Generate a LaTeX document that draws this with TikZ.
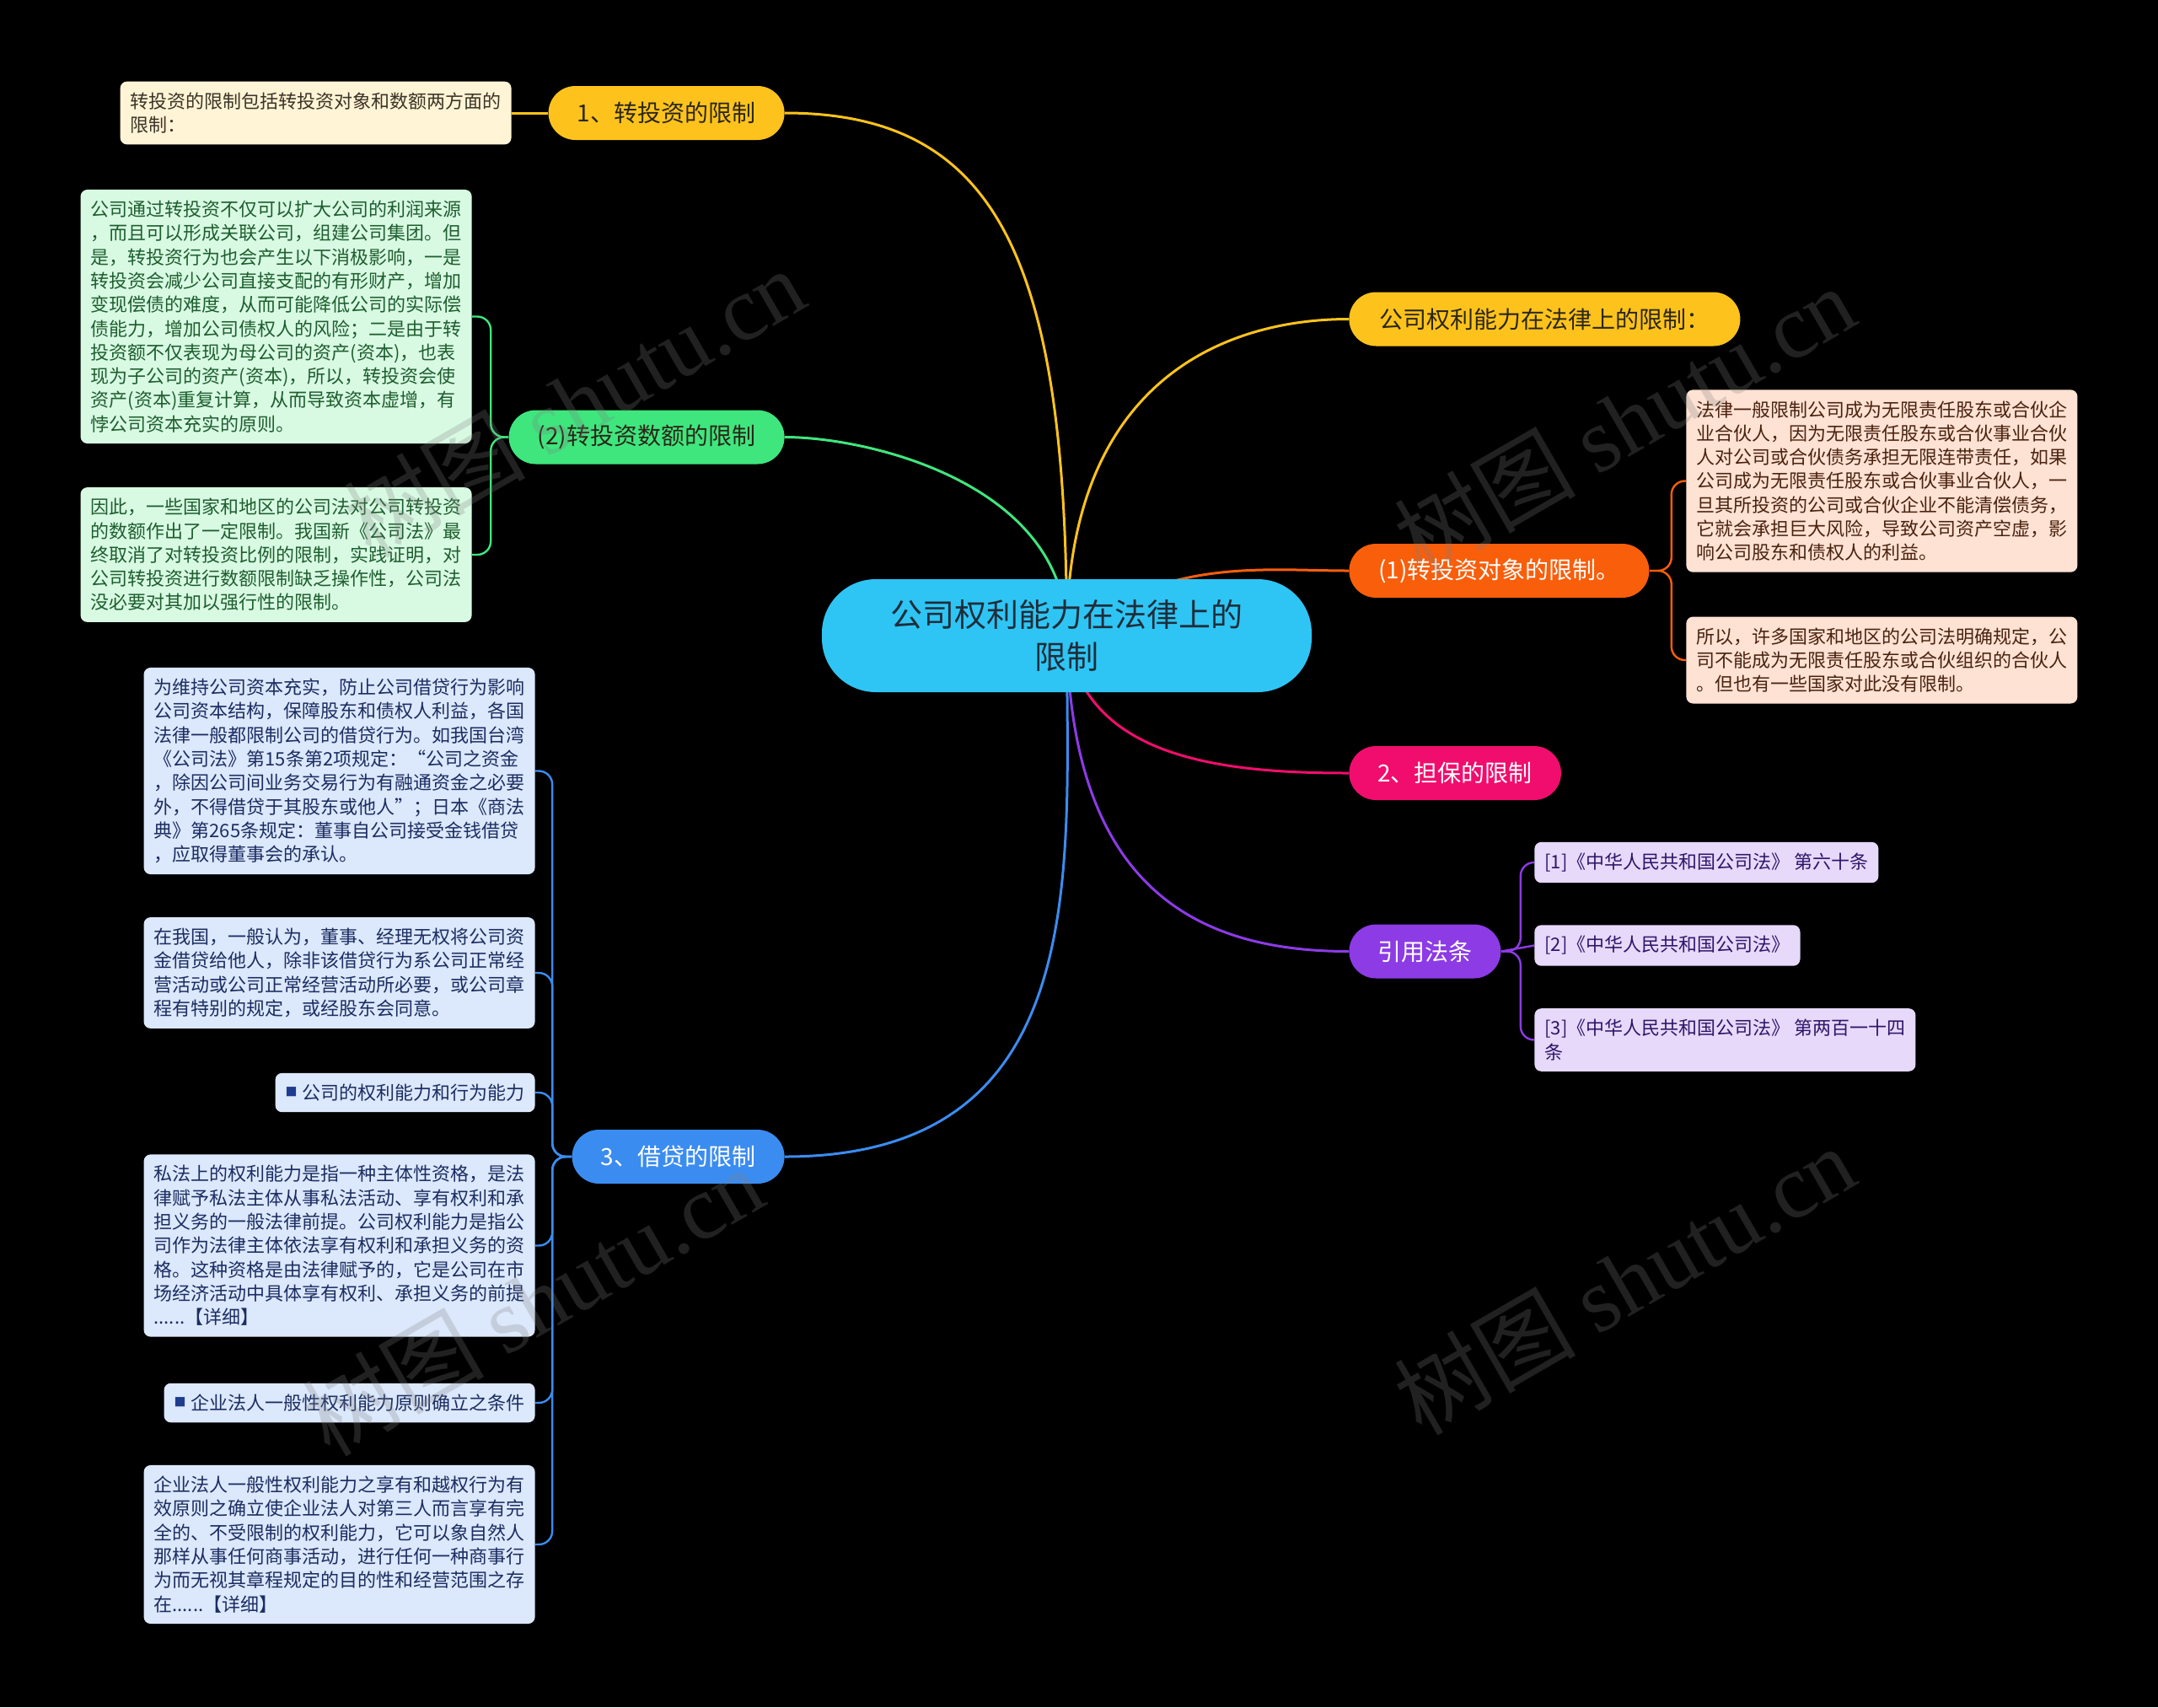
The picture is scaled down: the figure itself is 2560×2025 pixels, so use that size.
\documentclass[tikz,border=0pt]{standalone}
\usepackage{fontspec}
\setmainfont{Noto Sans CJK SC}
\newfontfamily\wmfont{Liberation Serif}
\usepackage{xcolor}
\usepackage{tikz}
\definecolor{rootcyan}{HTML}{2EC5F4}
\definecolor{roottxt}{HTML}{1F2D3A}
\definecolor{yellowbr}{HTML}{FDC31C}
\definecolor{greenbr}{HTML}{3FE67E}
\definecolor{orangebr}{HTML}{F95E0B}
\definecolor{pinkbr}{HTML}{F10D6D}
\definecolor{purplebr}{HTML}{8C3BE5}
\definecolor{bluebr}{HTML}{3B8CF0}
\definecolor{creamleaf}{HTML}{FFF4D6}
\definecolor{mintleaf}{HTML}{D8FAE3}
\definecolor{peachleaf}{HTML}{FEE2D3}
\definecolor{lavleaf}{HTML}{E6D9FA}
\definecolor{skyleaf}{HTML}{DCE8FB}
\definecolor{creamtxt}{HTML}{3B3325}
\definecolor{minttxt}{HTML}{1E5E2E}
\definecolor{peachtxt}{HTML}{4A2210}
\definecolor{lavtxt}{HTML}{2F1668}
\definecolor{skytxt}{HTML}{1C2D62}
\definecolor{bullettxt}{HTML}{1E3C8E}
\definecolor{darktxt}{HTML}{2B2618}
\pgfdeclarelayer{bg}
\pgfsetlayers{bg,main}
\newcommand{\sqbullet}{\raisebox{1.8pt}{\fontsize{7}{7}\selectfont\color{bullettxt}■}\hspace{3pt}}
\tikzset{
    rootnode/.style={rectangle, rounded corners=32pt, minimum width=290.5pt, minimum height=67pt, align=center, fill=rootcyan, text=roottxt, font=\fontsize{19}{25}\selectfont},
    branch/.style={rectangle, rounded corners=16pt, minimum height=32pt, inner xsep=17pt, font=\fontsize{14}{17}\selectfont},
    leaf/.style={rectangle, rounded corners=4pt, align=left, inner xsep=6pt, inner ysep=6.5pt, font=\fontsize{11}{14.15}\selectfont},
    link/.style={line width=1.5pt},
    bracket/.style={line width=1.2pt, rounded corners=8pt},
    wmark/.style={rotate=30, text=gray, text opacity=0.26, font=\fontsize{54}{58}\selectfont}
}

\begin{document}
\begin{tikzpicture}[x=0.5pt, y=0.5pt]
    \useasboundingbox (0,0) rectangle (2560,-2025);
    \begin{pgfonlayer}{bg}
        \fill[black] (0,0) rectangle (2560,-2025);
    \end{pgfonlayer}

    \node (root) [rootnode] at (1265.5,-754) {公司权利能力在法律上的\\限制};

    \node (zhuan) [branch, fill=yellowbr, text=darktxt, anchor=east, minimum width=140pt] at (931,-134) {1、转投资的限制};
    \node (shue) [branch, fill=greenbr, text=darktxt, anchor=east, minimum width=163.5pt] at (931,-518.5) {(2)转投资数额的限制};
    \node (jiedai) [branch, fill=bluebr, text=white, anchor=east, minimum width=126pt] at (931,-1372) {3、借贷的限制};
    \node (quanli) [branch, fill=yellowbr, text=darktxt, anchor=west, minimum width=232pt] at (1600,-378.5) {公司权利能力在法律上的限制：};
    \node (duixiang) [branch, fill=orangebr, text=white, anchor=west, minimum width=178pt] at (1600,-677) {(1)转投资对象的限制。};
    \node (danbao) [branch, fill=pinkbr, text=white, anchor=west, minimum width=125.5pt] at (1600,-917) {2、担保的限制};
    \node (fatiao) [branch, fill=purplebr, text=white, anchor=west, minimum width=89pt] at (1600,-1128.5) {引用法条};

    \node (zhuanleaf) [leaf, fill=creamleaf, text=creamtxt, anchor=east] at (607,-134) {转投资的限制包括转投资对象和数额两方面的\\限制：};

    \node (shueA) [leaf, fill=mintleaf, text=minttxt, anchor=east] at (560,-375.5) {公司通过转投资不仅可以扩大公司的利润来源\\，而且可以形成关联公司，组建公司集团。但\\是，转投资行为也会产生以下消极影响，一是\\转投资会减少公司直接支配的有形财产，增加\\变现偿债的难度，从而可能降低公司的实际偿\\债能力，增加公司债权人的风险；二是由于转\\投资额不仅表现为母公司的资产(资本)，也表\\现为子公司的资产(资本)，所以，转投资会使\\资产(资本)重复计算，从而导致资本虚增，有\\悖公司资本充实的原则。};
    \node (shueB) [leaf, fill=mintleaf, text=minttxt, anchor=east] at (560,-658) {因此，一些国家和地区的公司法对公司转投资\\的数额作出了一定限制。我国新《公司法》最\\终取消了对转投资比例的限制，实践证明，对\\公司转投资进行数额限制缺乏操作性，公司法\\没必要对其加以强行性的限制。};

    \node (duixiangA) [leaf, fill=peachleaf, text=peachtxt, anchor=west] at (2000,-570.5) {法律一般限制公司成为无限责任股东或合伙企\\业合伙人，因为无限责任股东或合伙事业合伙\\人对公司或合伙债务承担无限连带责任，如果\\公司成为无限责任股东或合伙事业合伙人，一\\旦其所投资的公司或合伙企业不能清偿债务，\\它就会承担巨大风险，导致公司资产空虚，影\\响公司股东和债权人的利益。};
    \node (duixiangB) [leaf, fill=peachleaf, text=peachtxt, anchor=west] at (2000,-783) {所以，许多国家和地区的公司法明确规定，公\\司不能成为无限责任股东或合伙组织的合伙人\\。但也有一些国家对此没有限制。};

    \node (fatiaoA) [leaf, fill=lavleaf, text=lavtxt, anchor=west] at (1820,-1023) {[1]《中华人民共和国公司法》 第六十条};
    \node (fatiaoB) [leaf, fill=lavleaf, text=lavtxt, anchor=west] at (1820,-1121.5) {[2]《中华人民共和国公司法》};
    \node (fatiaoC) [leaf, fill=lavleaf, text=lavtxt, anchor=west] at (1820,-1233.5) {[3]《中华人民共和国公司法》 第两百一十四\\条};

    \node (jiedaiA) [leaf, fill=skyleaf, text=skytxt, anchor=east] at (635,-914.5) {为维持公司资本充实，防止公司借贷行为影响\\公司资本结构，保障股东和债权人利益，各国\\法律一般都限制公司的借贷行为。如我国台湾\\《公司法》第15条第2项规定：“公司之资金\\，除因公司间业务交易行为有融通资金之必要\\外，不得借贷于其股东或他人”；日本《商法\\典》第265条规定：董事自公司接受金钱借贷\\，应取得董事会的承认。};
    \node (jiedaiB) [leaf, fill=skyleaf, text=skytxt, anchor=east] at (635,-1154) {在我国，一般认为，董事、经理无权将公司资\\金借贷给他人，除非该借贷行为系公司正常经\\营活动或公司正常经营活动所必要，或公司章\\程有特别的规定，或经股东会同意。};
    \node (jiedaiC) [leaf, fill=skyleaf, text=skytxt, anchor=east] at (635,-1296) {\sqbullet 公司的权利能力和行为能力};
    \node (jiedaiD) [leaf, fill=skyleaf, text=skytxt, anchor=east] at (635,-1477.5) {私法上的权利能力是指一种主体性资格，是法\\律赋予私法主体从事私法活动、享有权利和承\\担义务的一般法律前提。公司权利能力是指公\\司作为法律主体依法享有权利和承担义务的资\\格。这种资格是由法律赋予的，它是公司在市\\场经济活动中具体享有权利、承担义务的前提\\......【详细】};
    \node (jiedaiE) [leaf, fill=skyleaf, text=skytxt, anchor=east] at (635,-1664) {\sqbullet 企业法人一般性权利能力原则确立之条件};
    \node (jiedaiF) [leaf, fill=skyleaf, text=skytxt, anchor=east] at (635,-1832) {企业法人一般性权利能力之享有和越权行为有\\效原则之确立使企业法人对第三人而言享有完\\全的、不受限制的权利能力，它可以象自然人\\那样从事任何商事活动，进行任何一种商事行\\为而无视其章程规定的目的性和经营范围之存\\在......【详细】};

    \begin{pgfonlayer}{bg}
        \draw [link, yellowbr] (root.center) .. controls +(0,450) and +(250,0) .. (zhuan.east);
        \draw [link, greenbr] (root.center) .. controls +(0,180) and +(100,0) .. (shue.east);
        \draw [link, bluebr] (root.center) .. controls +(0,-275) and +(369,0) .. (jiedai.east);
        \draw [link, yellowbr] (root.center) .. controls +(0,300) and +(-150,0) .. (quanli.west);
        \draw [link, orangebr] (root.center) .. controls +(115,94) and +(-100,0) .. (duixiang.west);
        \draw [link, pinkbr] (root.center) .. controls +(20,-146) and +(-150,0) .. (danbao.west);
        \draw [link, purplebr] (root.center) .. controls +(5,-300) and +(-180,0) .. (fatiao.west);

        \draw [link, yellowbr] (zhuan.west) -- (zhuanleaf.east);
        \foreach \leaf in {A,B}
            \draw [bracket, greenbr] (shue.west) -- ++(-21,0) |- (shue\leaf.east);
        \foreach \leaf in {A,B}
            \draw [bracket, orangebr] (duixiang.east) -- ++(26,0) |- (duixiang\leaf.west);
        \foreach \leaf in {A,C}
            \draw [bracket, purplebr] (fatiao.east) -- ++(23,0) |- (fatiao\leaf.west);
        \draw [bracket, purplebr] (fatiao.east) -- (fatiaoB.west);
        \foreach \leaf in {A,...,F}
            \draw [bracket, bluebr] (jiedai.west) -- ++(-23,0) |- (jiedai\leaf.east);
    \end{pgfonlayer}

    \node (wmA) [wmark] at (681,-477) {树图 {\wmfont shutu.cn}};
    \node (wmB) [wmark] at (1927,-498) {树图 {\wmfont shutu.cn}};
    \node (wmC) [wmark] at (632,-1543) {树图 {\wmfont shutu.cn}};
    \node (wmD) [wmark] at (1927,-1518) {树图 {\wmfont shutu.cn}};
\end{tikzpicture}
\end{document}
